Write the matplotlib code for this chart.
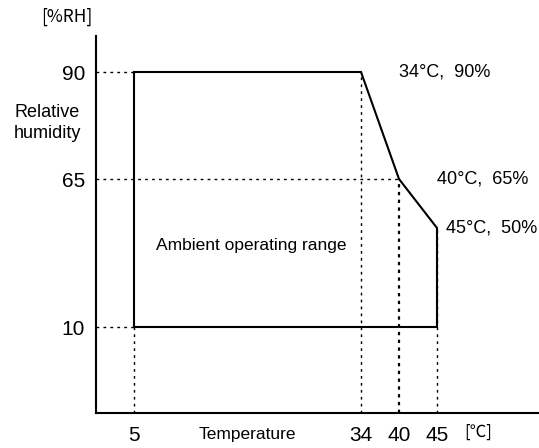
import numpy as np
import matplotlib
matplotlib.use("Agg")
import matplotlib.pyplot as plt

# operating envelope corners (temperature degC, humidity %RH)
temp = [5, 5, 34, 40, 45, 45]
rh = [10, 90, 90, 65, 50, 10]
x_ticks = [5, 34, 40, 45]
y_ticks = [10, 65, 90]
corner_labels = ["34°C,  90%", "40°C,  65%", "45°C,  50%"]
corner_temp = [34, 40, 45]
corner_rh = [90, 65, 50]

# schematic (non-linear) axes: piecewise scale knots
X_KNOT = [0, 5, 34, 40, 45, 58]
X_POS = [96, 134, 361, 399, 437, 539]
Y_KNOT = [0, 10, 50, 65, 90, 100]
Y_POS = [0, 86, 185, 234, 341, 377]

def fx(v):
    return np.interp(v, X_KNOT, X_POS)

def ifx(v):
    return np.interp(v, X_POS, X_KNOT)

def fy(v):
    return np.interp(v, Y_KNOT, Y_POS)

def ify(v):
    return np.interp(v, Y_POS, Y_KNOT)

SANS = ["Liberation Sans", "DejaVu Sans"]
CJK = ["Noto Sans CJK JP", "DejaVu Sans"]

fig = plt.figure(figsize=(5.39, 4.48), dpi=100)
ax = fig.add_axes([96 / 539, 35 / 448, 443 / 539, 377 / 448])
ax.set_xscale("function", functions=(fx, ifx))
ax.set_yscale("function", functions=(fy, ify))
ax.set_xlim(0, 58)
ax.set_ylim(0, 100)

dot = dict(color="black", lw=1.0, ls=(0, (2, 3)))
# horizontal guides
for yv, xe in zip(y_ticks, [5, 40, 5]):
    ax.plot([0, xe], [yv, yv], **dot)
# vertical guides
ax.plot([5, 5], [0, 10], **dot)
ax.plot([34, 34], [0, 90], **dot)
ax.plot([40, 40], [0, 65], color="black", lw=1.6, ls=(0, (1.5, 2)))
ax.plot([45, 45], [0, 50], **dot)

ax.fill(temp, rh, facecolor="none", edgecolor="black", lw=1.5)

# label anchors: left edge of each label sits at the next corner's x
for t, h, s in zip(corner_temp, corner_rh, corner_labels):
    xa = {34: 40, 40: 45, 45: 45}[t]
    off = 6.5 if t == 45 else 0
    ax.annotate(s, (xa, h), xytext=(off, 0), textcoords="offset points",
                ha="left", va="center", fontsize=13, family=SANS)

ax.text(0.35, 0.445, "Ambient operating range", transform=ax.transAxes,
        ha="center", va="center", fontsize=12.5, family=SANS)

ax.set_xticks(x_ticks)
ax.set_yticks(y_ticks)
ax.set_xticklabels([str(v) for v in x_ticks], family=SANS, fontsize=15)
ax.set_yticklabels([str(v) for v in y_ticks], family=SANS, fontsize=15)
ax.tick_params(axis="x", length=0, pad=9)
ax.tick_params(axis="y", length=0, pad=8)
ax.xaxis.set_minor_locator(matplotlib.ticker.NullLocator())
ax.yaxis.set_minor_locator(matplotlib.ticker.NullLocator())

for side in ["top", "right"]:
    ax.spines[side].set_visible(False)
for side in ["left", "bottom"]:
    ax.spines[side].set_linewidth(1.5)

fig.text(67 / 539, 1 - 17 / 448, "[%RH]", ha="center", va="center",
         fontsize=12.5, family=CJK)
fig.text(14 / 539, 1 - 123 / 448, "Relative\nhumidity", ha="left",
         va="center", fontsize=13, family=SANS, linespacing=1.3)
fig.text(247 / 539, 1 - 439 / 448, "Temperature", ha="center",
         va="baseline", fontsize=12.5, family=SANS)
fig.text(478 / 539, 1 - 432 / 448, "[℃]", ha="center", va="center",
         fontsize=12, family=CJK)

fig.savefig("out.png", dpi=100)
